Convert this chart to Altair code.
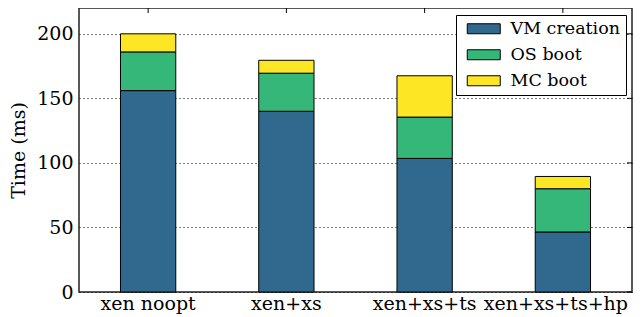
import altair as alt
import pandas as pd

configs = ["xen noopt", "xen+xs", "xen+xs+ts", "xen+xs+ts+hp"]
phases = ["VM creation", "OS boot", "MC boot"]
vm_creation = [156, 140, 103.5, 46.5]
os_boot = [30, 29.5, 32, 33.5]
mc_boot = [14, 10, 32, 9.5]
colors = ["#31688e", "#35b779", "#fde725"]
y_ticks = [0, 50, 100, 150, 200]

rows = []
for i, c in enumerate(configs):
    for j, (p, vals) in enumerate(zip(phases, [vm_creation, os_boot, mc_boot])):
        rows.append({"config": c, "phase": p, "time": vals[i], "order": j})
df = pd.DataFrame(rows)
cfg_df = pd.DataFrame({"config": configs})
tick_df = pd.DataFrame({"t": y_ticks})

W, H = 553, 284
FONT = "DejaVu Serif"
FS = 19

xscale = alt.Scale(domain=configs, paddingInner=0.6, paddingOuter=0.3)
yscale = alt.Scale(domain=[0, 220], nice=False)

last_label_shift = {"condition": {"test": "datum.value == 'xen+xs+ts+hp'", "value": -7},
                    "value": 0}

bars = alt.Chart(df).mark_bar(stroke="black", strokeWidth=1).encode(
    x=alt.X("config:N", scale=xscale, sort=configs,
            axis=alt.Axis(title=None, labelAngle=0, ticks=False, domain=False,
                          labelFontSize=FS, labelFont=FONT, labelColor="black",
                          labelPadding=2, labelOffset=last_label_shift)),
    y=alt.Y("time:Q", stack="zero", scale=yscale,
            axis=alt.Axis(title="Time (ms)", values=y_ticks, grid=True,
                          gridDash=[1, 3], gridColor="black", gridOpacity=1,
                          ticks=False, domain=False, labelFontSize=FS,
                          labelFont=FONT, labelColor="black", labelPadding=6,
                          titleFont=FONT, titleFontSize=FS, titleFontWeight="normal",
                          titleColor="black", titlePadding=8)),
    color=alt.Color("phase:N", scale=alt.Scale(domain=phases, range=colors),
                    legend=alt.Legend(title=None, orient="none", legendX=377, legendY=7,
                                      symbolType="M-3.3,-1H3.3V1H-3.3Z",
                                      symbolSize=100, symbolStrokeColor="black",
                                      symbolStrokeWidth=1, symbolOpacity=1,
                                      symbolOffset=14,
                                      labelFont=FONT, labelFontSize=17.5, labelColor="black",
                                      labelOffset=18, rowPadding=7,
                                      strokeColor="black", fillColor="white",
                                      padding=5, cornerRadius=0)),
    order=alt.Order("order:Q"),
)

top_ticks = alt.Chart(cfg_df).mark_rule(color="black", strokeWidth=1).encode(
    x=alt.X("config:N", scale=xscale, sort=configs),
    y=alt.value(0), y2=alt.value(5),
)
right_ticks = alt.Chart(tick_df).mark_rule(color="black", strokeWidth=1).encode(
    y=alt.Y("t:Q", scale=yscale),
    x=alt.value(W - 5), x2=alt.value(W),
)

chart = alt.layer(bars, top_ticks, right_ticks).properties(
    width=W, height=H,
    autosize=alt.AutoSizeParams(type="none"),
    padding={"left": 71, "top": 0, "right": 2, "bottom": 25},
).configure(background="white", font=FONT).configure_view(
    stroke="#222", strokeWidth=1.5
).configure_legend(labelFont=FONT)

chart.save("out.html", embed_options={"renderer": "svg", "actions": False})
